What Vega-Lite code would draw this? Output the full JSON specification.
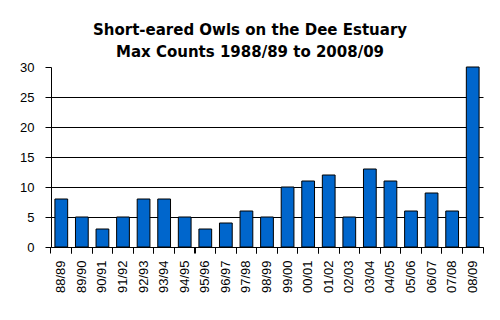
{
  "$schema": "https://vega.github.io/schema/vega-lite/v6.json",
  "width": 432,
  "height": 180,
  "autosize": {"type": "none"},
  "padding": {"left": 51, "top": 67, "right": 17, "bottom": 73},
  "background": "white",
  "title": {
    "text": ["Short-eared Owls on the Dee Estuary", "Max Counts 1988/89 to 2008/09"],
    "font": "DejaVu Sans",
    "fontSize": 15,
    "fontWeight": "bold",
    "color": "black",
    "anchor": "middle",
    "dx": -17,
    "offset": 1,
    "lineHeight": 22
  },
  "data": {
    "values": [
      {"season": "88/89", "count": 8},
      {"season": "89/90", "count": 5},
      {"season": "90/91", "count": 3},
      {"season": "91/92", "count": 5},
      {"season": "92/93", "count": 8},
      {"season": "93/94", "count": 8},
      {"season": "94/95", "count": 5},
      {"season": "95/96", "count": 3},
      {"season": "96/97", "count": 4},
      {"season": "97/98", "count": 6},
      {"season": "98/99", "count": 5},
      {"season": "99/00", "count": 10},
      {"season": "00/01", "count": 11},
      {"season": "01/02", "count": 12},
      {"season": "02/03", "count": 5},
      {"season": "03/04", "count": 13},
      {"season": "04/05", "count": 11},
      {"season": "05/06", "count": 6},
      {"season": "06/07", "count": 9},
      {"season": "07/08", "count": 6},
      {"season": "08/09", "count": 30}
    ]
  },
  "layer": [
    {
      "mark": {"type": "bar", "opacity": 0},
      "encoding": {
        "x": {"field": "season", "type": "nominal", "sort": null, "scale": {"paddingInner": 0, "paddingOuter": 0}, "axis": {"orient": "bottom", "title": null, "labels": false, "bandPosition": 0, "ticks": true, "tickSize": 6, "tickColor": "black", "domainColor": "black"}},
        "y": {"field": "count", "type": "quantitative", "scale": {"domain": [0, 30], "nice": false}, "axis": {"orient": "left", "title": null, "values": [5, 10, 15, 20, 25], "grid": true, "gridColor": "black", "gridWidth": 1, "labels": false, "ticks": false, "domain": false}}
      }
    },
    {
      "mark": {"type": "bar", "opacity": 0},
      "encoding": {
        "x": {"field": "season", "type": "nominal", "sort": null, "axis": {"orient": "bottom", "title": null, "labels": false, "bandPosition": 1, "ticks": true, "tickSize": 6, "tickColor": "black", "domainColor": "black"}},
        "y": {"field": "count", "type": "quantitative", "axis": null}
      }
    },
    {
      "mark": {"type": "bar", "fill": "#0066CC", "stroke": "black", "strokeWidth": 1, "width": {"band": 0.62}},
      "encoding": {
        "x": {
          "field": "season", "type": "nominal", "sort": null,
          "axis": {"orient": "bottom", "title": null, "ticks": false, "domain": false, "labelAngle": -90, "labelAlign": "right", "labelBaseline": "middle", "labelPadding": 13, "labelFont": "Liberation Sans", "labelFontSize": 13, "labelColor": "black"}
        },
        "y": {
          "field": "count", "type": "quantitative",
          "axis": {"orient": "left", "title": null, "values": [0, 5, 10, 15, 20, 25, 30], "grid": false, "domainColor": "black", "tickColor": "black", "tickSize": 6, "labelPadding": 11, "labelFont": "Liberation Sans", "labelFontSize": 13, "labelColor": "black"}
        }
      }
    }
  ],
  "resolve": {"axis": {"x": "independent", "y": "independent"}},
  "config": {"view": {"stroke": null}}
}
